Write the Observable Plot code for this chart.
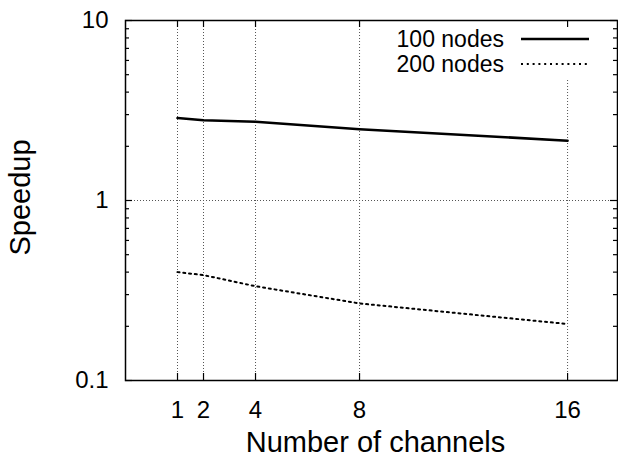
<!DOCTYPE html>
<html>
<head>
<meta charset="utf-8">
<script src="https://cdn.jsdelivr.net/npm/d3@7"></script>
<script src="https://cdn.jsdelivr.net/npm/@observablehq/plot@0.6"></script>
<style>
  html, body { margin: 0; padding: 0; background: white; }
</style>
</head>
<body>
<div id="chart"></div>
<script>
// ---- data ----
const channels = [1, 2, 4, 8, 16];
const speedup100 = [2.87, 2.79, 2.74, 2.49, 2.15];
const speedup200 = [0.40, 0.385, 0.334, 0.268, 0.206];
const seriesNames = ["100 nodes", "200 nodes"];
const xTicks = [1, 2, 4, 8, 16];
const yTicks = [0.1, 1, 10];
const yTickLabels = ["0.1", "1", "10"];
const yMinor = [0.2,0.3,0.4,0.5,0.6,0.7,0.8,0.9,2,3,4,5,6,7,8,9];
const xLabel = "Number of channels";
const yLabel = "Speedup";

const rows100 = channels.map((c, i) => ({x: c, y: speedup100[i]}));
const rows200 = channels.map((c, i) => ({x: c, y: speedup200[i]}));

const W = 618, H = 457;
const mL = 125, mR = 1, mT = 20, mB = 77;
const fw = W - mL - mR, fh = H - mT - mB;
const major = 7, minor = 4;
const gridStyle = {stroke: "#555", strokeWidth: 1, strokeDasharray: "1 2"};
const FONT = "'Liberation Sans', Arial, sans-serif";

const chart = Plot.plot({
  width: W, height: H,
  marginLeft: mL, marginRight: mR, marginTop: mT, marginBottom: mB,
  style: {fontFamily: FONT, background: "white", color: "black"},
  x: {type: "linear", domain: [-1, 17.92]},
  y: {type: "log", domain: [0.1, 10]},
  marks: [
    Plot.ruleX(xTicks, {x: d => d, ...gridStyle}),
    Plot.ruleY([1], {y: d => d, ...gridStyle}),
    // data
    Plot.line(rows100, {x: "x", y: "y", stroke: "black", strokeWidth: 2.5}),
    Plot.line(rows200, {x: "x", y: "y", stroke: "black", strokeWidth: 2, strokeDasharray: "2 3.8"}),
    // inward ticks
    Plot.tickY(yTicks, {y: d => d, insetRight: fw - major, stroke: "black", strokeWidth: 1.2}),
    Plot.tickY(yTicks, {y: d => d, insetLeft: fw - major, stroke: "black", strokeWidth: 1.2}),
    Plot.tickY(yMinor, {y: d => d, insetRight: fw - minor, stroke: "black", strokeWidth: 1.2}),
    Plot.tickY(yMinor, {y: d => d, insetLeft: fw - minor, stroke: "black", strokeWidth: 1.2}),
    Plot.tickX(xTicks, {x: d => d, insetTop: fh - major, stroke: "black", strokeWidth: 1.2}),
    Plot.tickX(xTicks, {x: d => d, insetBottom: fh - major, stroke: "black", strokeWidth: 1.2}),
    Plot.frame({stroke: "black", strokeWidth: 1.5}),
    // tick labels
    Plot.axisX({ticks: xTicks, tickSize: 0, tickPadding: 20, fontSize: 24, label: null, tickFormat: d => String(d)}),
    Plot.axisY({ticks: yTicks, tickSize: 0, tickPadding: 17, fontSize: 24, label: null,
      tickFormat: d => yTickLabels[yTicks.indexOf(d)]}),
    // axis titles
    Plot.text([xLabel], {frameAnchor: "bottom", textAnchor: "middle", dx: 4, dy: 62, fontSize: 29, lineAnchor: "middle"}),
    Plot.text([yLabel], {frameAnchor: "left", textAnchor: "middle", dx: -105, dy: -3, rotate: -90, fontSize: 29, lineAnchor: "middle"})
  ]
});

document.getElementById("chart").appendChild(chart);

// legend (gnuplot key, opaque box over the grid)
const svg = d3.select(chart);
const rules = chart.querySelectorAll('g[aria-label="rule"]');
const bg = document.createElementNS("http://www.w3.org/2000/svg", "rect");
bg.setAttribute("x", 380); bg.setAttribute("y", 21);
bg.setAttribute("width", 235); bg.setAttribute("height", 58);
bg.setAttribute("fill", "white");
if (rules.length) rules[rules.length - 1].after(bg); else chart.appendChild(bg);

const key = svg.append("g").attr("font-family", FONT).attr("font-size", 23);
const keyRows = [
  {name: seriesNames[0], y: 39, dash: null, sw: 2.5},
  {name: seriesNames[1], y: 64, dash: "2 3.8", sw: 2}
];
keyRows.forEach(r => {
  key.append("text").attr("x", 504).attr("y", r.y).attr("dy", "0.35em")
    .attr("text-anchor", "end").attr("fill", "black").text(r.name);
  const ln = key.append("line").attr("x1", 521).attr("x2", 589).attr("y1", r.y).attr("y2", r.y)
    .attr("stroke", "black").attr("stroke-width", r.sw);
  if (r.dash) ln.attr("stroke-dasharray", r.dash);
});
</script>
</body>
</html>
